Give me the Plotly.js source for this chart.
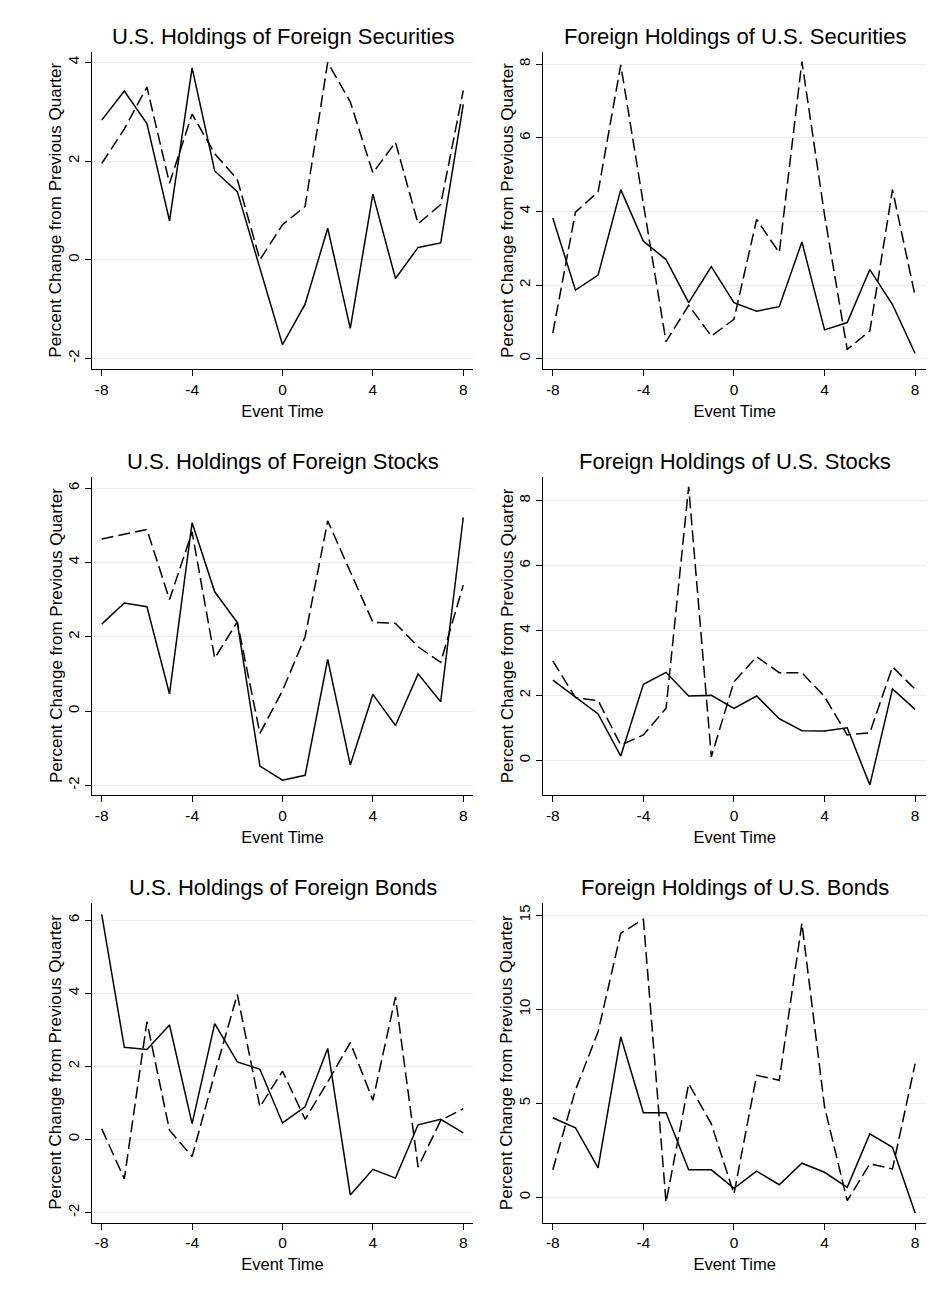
<!DOCTYPE html>
<html>
<head>
<meta charset="utf-8">
<script src="https://cdn.plot.ly/plotly-3.0.1.min.js"></script>
<style>
  html, body { margin: 0; padding: 0; background: #ffffff; }
  #chart { width: 946px; height: 1304px; }
</style>
</head>
<body>
<div id="chart"></div>
<script>
// ---------------- Data ----------------
const eventTime = [-8, -7, -6, -5, -4, -3, -2, -1, 0, 1, 2, 3, 4, 5, 6, 7, 8];

const panelTitles = [
  "U.S. Holdings of Foreign Securities",
  "Foreign Holdings of U.S. Securities",
  "U.S. Holdings of Foreign Stocks",
  "Foreign Holdings of U.S. Stocks",
  "U.S. Holdings of Foreign Bonds",
  "Foreign Holdings of U.S. Bonds"
];

const yTitle = "Percent Change from Previous Quarter";
const xTitle = "Event Time";
const xTicks = [-8, -4, 0, 4, 8];

// Solid and dashed series for each panel
const usForeignSecSolid  = [2.83, 3.42, 2.76, 0.79, 3.89, 1.80, 1.38, -0.15, -1.72, -0.90, 0.64, -1.39, 1.33, -0.38, 0.25, 0.34, 3.15];
const usForeignSecDashed = [1.95, 2.65, 3.50, 1.55, 2.95, 2.15, 1.63, 0.00, 0.71, 1.08, 4.00, 3.20, 1.76, 2.38, 0.73, 1.12, 3.43];

const foreignUSSecSolid  = [3.82, 1.86, 2.27, 4.59, 3.19, 2.69, 1.52, 2.50, 1.52, 1.29, 1.41, 3.17, 0.78, 0.98, 2.42, 1.47, 0.14];
const foreignUSSecDashed = [0.70, 3.98, 4.53, 7.98, 4.20, 0.46, 1.45, 0.61, 1.07, 3.78, 2.88, 8.07, 3.90, 0.25, 0.75, 4.59, 1.70];

const usForeignStkSolid  = [2.34, 2.91, 2.81, 0.46, 5.07, 3.21, 2.38, -1.48, -1.86, -1.73, 1.39, -1.45, 0.45, -0.39, 1.00, 0.25, 5.21];
const usForeignStkDashed = [4.63, 4.76, 4.89, 3.00, 4.82, 1.42, 2.40, -0.60, 0.55, 2.00, 5.12, 3.75, 2.39, 2.36, 1.73, 1.31, 3.39];

const foreignUSStkSolid  = [2.47, 1.96, 1.43, 0.13, 2.34, 2.71, 1.98, 2.00, 1.60, 1.98, 1.28, 0.91, 0.90, 1.00, -0.76, 2.20, 1.57];
const foreignUSStkDashed = [3.06, 1.93, 1.84, 0.47, 0.78, 1.60, 8.43, 0.11, 2.42, 3.19, 2.70, 2.70, 1.96, 0.78, 0.85, 2.88, 2.19];

const usForeignBndSolid  = [6.16, 2.52, 2.46, 3.13, 0.43, 3.17, 2.12, 1.92, 0.45, 0.89, 2.49, -1.52, -0.82, -1.06, 0.40, 0.55, 0.18];
const usForeignBndDashed = [0.29, -1.08, 3.22, 0.25, -0.47, 1.80, 3.97, 0.89, 1.87, 0.55, 1.57, 2.65, 1.07, 3.90, -0.76, 0.52, 0.84];

const foreignUSBndSolid  = [4.23, 3.69, 1.56, 8.53, 4.49, 4.49, 1.46, 1.46, 0.48, 1.39, 0.67, 1.81, 1.33, 0.53, 3.37, 2.66, -0.83];
const foreignUSBndDashed = [1.46, 5.70, 8.80, 14.03, 14.78, -0.27, 6.04, 3.90, 0.18, 6.48, 6.22, 14.56, 4.80, -0.18, 1.78, 1.51, 7.10];

const yTickSets = [
  [-2, 0, 2, 4],
  [0, 2, 4, 6, 8],
  [-2, 0, 2, 4, 6],
  [0, 2, 4, 6, 8],
  [-2, 0, 2, 4, 6],
  [0, 5, 10, 15]
];

// ---------------- Layout geometry ----------------
const W = 946, H = 1304;
const colX = [[92, 473], [543.3, 926]];
const rowY = [[52, 369.3], [477, 795], [903, 1222.7]];
const xRanges = [[-8.43, 8.43], [-8.42, 8.48]];
const yRanges = [
  [-2.22, 4.21],
  [-0.29, 8.33],
  [-2.26, 6.30],
  [-1.07, 8.73],
  [-2.28, 6.47],
  [-1.35, 15.64]
];

const seriesPairs = [
  [usForeignSecSolid, usForeignSecDashed],
  [foreignUSSecSolid, foreignUSSecDashed],
  [usForeignStkSolid, usForeignStkDashed],
  [foreignUSStkSolid, foreignUSStkDashed],
  [usForeignBndSolid, usForeignBndDashed],
  [foreignUSBndSolid, foreignUSBndDashed]
];

const FONT = "Liberation Sans, Arial, Helvetica, sans-serif";
const traces = [];
const layout = {
  width: W, height: H,
  margin: {l: 0, r: 0, t: 0, b: 0},
  paper_bgcolor: "#ffffff",
  plot_bgcolor: "#ffffff",
  showlegend: false,
  font: {family: FONT, color: "#000000"},
  annotations: []
};

for (let p = 0; p < 6; p++) {
  const row = Math.floor(p / 2), col = p % 2;
  const idx = p + 1;
  const xa = idx === 1 ? "x" : "x" + idx;
  const ya = idx === 1 ? "y" : "y" + idx;
  const xKey = idx === 1 ? "xaxis" : "xaxis" + idx;
  const yKey = idx === 1 ? "yaxis" : "yaxis" + idx;

  const [solid, dashed] = seriesPairs[p];
  traces.push({
    x: eventTime, y: solid, xaxis: xa, yaxis: ya,
    type: "scatter", mode: "lines",
    line: {color: "#000000", width: 1.5},
    hoverinfo: "skip"
  });
  traces.push({
    x: eventTime, y: dashed, xaxis: xa, yaxis: ya,
    type: "scatter", mode: "lines",
    line: {color: "#000000", width: 1.5, dash: "12px,5px"},
    hoverinfo: "skip"
  });

  const xd = [colX[col][0] / W, colX[col][1] / W];
  const yd = [1 - rowY[row][1] / H, 1 - rowY[row][0] / H];

  layout[xKey] = {
    domain: xd,
    anchor: ya,
    range: xRanges[col],
    tickmode: "array",
    tickvals: xTicks,
    ticktext: xTicks.map(String),
    ticks: "outside", ticklen: 6, tickwidth: 1, tickcolor: "#000000",
    showline: true, linecolor: "#000000", linewidth: 1,
    showgrid: false, zeroline: false,
    tickfont: {family: FONT, size: 15.5, color: "#000000"},
    title: {text: xTitle, font: {family: FONT, size: 16.5, color: "#000000"}, standoff: 8}
  };
  layout[yKey] = {
    domain: yd,
    anchor: xa,
    range: yRanges[p],
    tickmode: "array",
    tickvals: yTickSets[p],
    ticktext: yTickSets[p].map(String),
    tickangle: -90,
    ticks: "outside", ticklen: 6, tickwidth: 1, tickcolor: "#000000",
    showline: true, linecolor: "#000000", linewidth: 1,
    showgrid: true, gridcolor: "#e6eff1", gridwidth: 1,
    zeroline: false,
    tickfont: {family: FONT, size: 15, color: "#000000"}
  };

  // y-axis title placed as rotated text left of the tick labels
  layout.annotations.push({
    text: yTitle,
    xref: "paper", yref: "paper",
    x: (colX[col][0] - 36) / W,
    y: (yd[0] + yd[1]) / 2,
    xanchor: "center", yanchor: "middle",
    textangle: -90,
    showarrow: false,
    font: {family: FONT, size: 17, color: "#000000"}
  });

  layout.annotations.push({
    text: panelTitles[p],
    xref: "paper", yref: "paper",
    x: (xd[0] + xd[1]) / 2,
    y: 1 - (rowY[row][0] - 15.3) / H,
    xanchor: "center", yanchor: "middle",
    showarrow: false,
    font: {family: FONT, size: 22, color: "#000000"}
  });
}

Plotly.newPlot("chart", traces, layout, {staticPlot: true, displayModeBar: false});
</script>
</body>
</html>
